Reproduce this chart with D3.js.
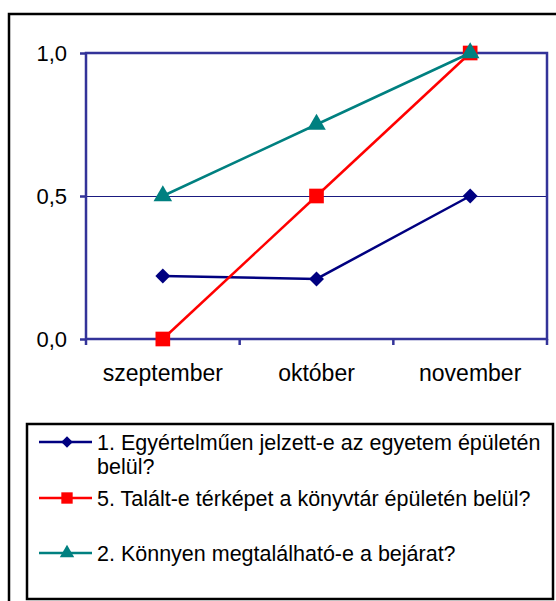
<!DOCTYPE html>
<html>
<head>
<meta charset="utf-8">
<script src="https://d3js.org/d3.v7.min.js"></script>
<style>
    body { margin: 0; background: #fff; }
    text { font-family: Arial, "Liberation Sans", sans-serif; font-size: 22px; fill: #000; }
    .frame { fill: none; stroke: #000; stroke-width: 2.5px; }
    .plot { fill: none; stroke: #333399; stroke-width: 2.5px; }
    .grid { stroke: #1a1a80; stroke-width: 1px; }
</style>
</head>
<body>
<script>
    var months = ["szeptember", "október", "november"];
    var yTicks = [0, 0.5, 1];
    var s1 = [0.22, 0.21, 0.5];
    var s5 = [0, 0.5, 1];
    var s2 = [0.5, 0.75, 1];
    var names = [
        ["1. Egyértelműen jelzett-e az egyetem épületén", "belül?"],
        ["5. Talált-e térképet a könyvtár épületén belül?"],
        ["2. Könnyen megtalálható-e a bejárat?"]
    ];

    // diamond = square turned by 45 degrees
    var series = [
        { values: s1, color: "#000080", shape: d3.symbolSquare, rot: 45, size: 112, name: names[0], ly: 442 },
        { values: s5, color: "#ff0000", shape: d3.symbolSquare, rot: 0, size: 215, name: names[1], ly: 498 },
        { values: s2, color: "#008080", shape: d3.symbolTriangle, rot: 0, size: 150, name: names[2], ly: 553 }
    ];

    var svg = d3.select("body").append("svg")
        .attr("width", 556)
        .attr("height", 601);

    svg.append("rect").attr("class", "frame")
        .attr("x", 9).attr("y", 14).attr("width", 560).attr("height", 600);

    var pLeft = 86, pRight = 547, pTop = 53, pBottom = 339;

    var x = d3.scaleBand().domain(months).range([pLeft, pRight]);
    var y = d3.scaleLinear().domain([0, 1]).range([pBottom, pTop]);

    // gridline at 0,5
    svg.append("line").attr("class", "grid")
        .attr("x1", pLeft).attr("x2", pRight)
        .attr("y1", y(0.5) + 0.5).attr("y2", y(0.5) + 0.5);

    svg.append("rect").attr("class", "plot")
        .attr("x", pLeft).attr("y", pTop)
        .attr("width", pRight - pLeft).attr("height", pBottom - pTop);

    var fmt = d => d3.format(".1f")(d).replace(".", ",");

    var yAxis = svg.append("g")
        .attr("transform", "translate(" + pLeft + ",0)")
        .call(d3.axisLeft(y).tickValues(yTicks).tickFormat(fmt).tickSize(6).tickPadding(13));
    yAxis.select(".domain").remove();
    yAxis.selectAll("line").attr("stroke", "#333399").attr("stroke-width", 2.5);
    yAxis.selectAll("text").style("font-size", "22px").attr("fill", "#000");

    // category ticks on the x axis
    var xAxis = svg.append("g")
        .attr("transform", "translate(0," + pBottom + ")")
        .call(d3.axisBottom(x).tickSize(0).tickPadding(26));
    xAxis.select(".domain").remove();
    xAxis.selectAll("text").style("font-size", "23px").attr("fill", "#000");
    var edges = months.map(m => x(m)).concat([pRight]);
    xAxis.selectAll(".edge").data(edges).enter().append("line")
        .attr("x1", d => d).attr("x2", d => d)
        .attr("y1", 0).attr("y2", 6)
        .attr("stroke", "#333399").attr("stroke-width", 2.5);

    var cx = (d, i) => x(months[i]) + x.bandwidth() / 2;

    series.forEach(function (s) {
        svg.append("path")
            .datum(s.values)
            .attr("fill", "none")
            .attr("stroke", s.color)
            .attr("stroke-width", 2.5)
            .attr("d", d3.line().x(cx).y(d => y(d)));

        svg.selectAll(null).data(s.values).enter().append("path")
            .attr("transform", (d, i) => "translate(" + cx(d, i) + "," + y(d) + ") rotate(" + s.rot + ")")
            .attr("fill", s.color)
            .attr("d", d3.symbol().type(s.shape).size(s.size));
    });

    // legend
    var legend = svg.append("g");
    legend.append("rect")
        .attr("x", 27).attr("y", 424).attr("width", 526).attr("height", 175)
        .attr("fill", "#fff").attr("stroke", "#000").attr("stroke-width", 2.5);

    series.forEach(function (s) {
        legend.append("line")
            .attr("x1", 39).attr("x2", 92)
            .attr("y1", s.ly).attr("y2", s.ly)
            .attr("stroke", s.color).attr("stroke-width", 2.5);
        legend.append("path")
            .attr("transform", "translate(67," + s.ly + ") rotate(" + s.rot + ")")
            .attr("fill", s.color)
            .attr("d", d3.symbol().type(s.shape).size(s.size * 0.6));
        var t = legend.append("text")
            .attr("x", 97).attr("y", s.ly)
            .style("font-size", "21.5px");
        s.name.forEach(function (line, i) {
            t.append("tspan").attr("x", 97).attr("dy", i === 0 ? "0.35em" : "24px").text(line);
        });
    });
</script>
</body>
</html>
